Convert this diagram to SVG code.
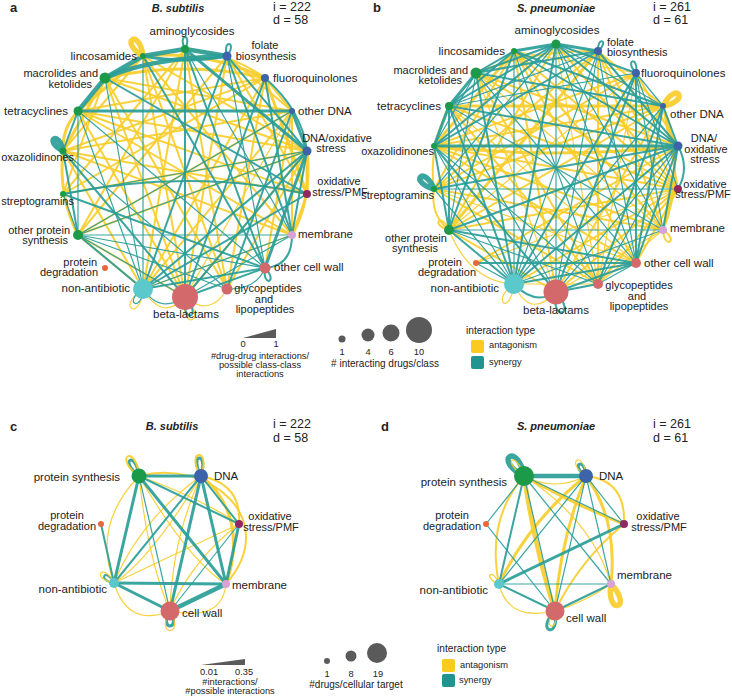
<svg xmlns="http://www.w3.org/2000/svg" width="732" height="697" viewBox="0 0 732 697">
<style>
text{font-family:"Liberation Sans",Arial,sans-serif;fill:#222}
.lb{font-size:11.5px}
.lb2{font-size:11px}
.e{text-anchor:end}
.m{text-anchor:middle}
.tt{font-size:11px;font-weight:bold;font-style:italic;text-anchor:middle}
.pl{font-size:13px;font-weight:bold}
.st{font-size:12.5px}
.lg{font-size:9.3px}
.ls{font-size:9.3px}
.y{stroke:#F8CD2C;fill:none;stroke-linecap:round;stroke-opacity:.92}
.t{stroke:#2A9D98;fill:none;stroke-linecap:round;stroke-opacity:.92}
.w1{stroke-width:1.2}.w2{stroke-width:2}.w3{stroke-width:3}.w4{stroke-width:4.5}.w5{stroke-width:5.5}
.gr{fill:#1D9A49}.bl{fill:#3D63A8}.pu{fill:#8E2A60}.li{fill:#D7A2D6}.sa{fill:#D3696B}.or{fill:#E8683D}.cy{fill:#5BC9CB}
.lgd{fill:#5a5a5a}
</style>

<!-- ================= PANEL A ================= -->
<g id="a-header">
<text class="pl" x="10" y="12">a</text>
<text class="tt" x="178" y="12">B. subtilis</text>
<text class="st" x="273" y="11">i = 222</text>
<text class="st" x="273" y="24">d = 58</text>
</g>
<g id="a-connectors">
<path class="y w3" d="M143 56L78 111"/>
<path class="y w2" d="M143 56L63 151"/>
<path class="y w3" d="M143 56Q205 50 265 78"/>
<path class="y w3" d="M105 78Q185 60 265 78"/>
<path class="y w2" d="M105 78L292 111"/>
<path class="y w2" d="M105 78L307 151"/>
<path class="y w3" d="M105 78L63 151"/>
<path class="y w2" d="M105 78L63 194"/>
<path class="y w3" d="M78 111Q62 128 63 151"/>
<path class="y w2" d="M78 111L265 78"/>
<path class="y w2" d="M78 111L307 151"/>
<path class="y w2" d="M78 111L307 194"/>
<path class="y w2" d="M78 111L292 235"/>
<path class="y w2" d="M78 111L185 297"/>
<path class="y w2" d="M63 151L292 111"/>
<path class="y w2" d="M63 151L265 78"/>
<path class="y w2" d="M63 151L307 194"/>
<path class="y w2" d="M63 151L292 235"/>
<path class="y w2" d="M63 151L143 289"/>
<path class="y w2" d="M63 194L307 151"/>
<path class="y w2" d="M63 194L265 78"/>
<path class="y w2" d="M78 235L227 56"/>
<path class="y w2" d="M78 235L292 111"/>
<path class="y w2" d="M78 235L307 151"/>
<path class="y w3" d="M78 235Q58 195 63 151"/>
<path class="y w2" d="M227 56L292 111"/>
<path class="y w2" d="M227 56L307 194"/>
<path class="y w2" d="M227 56L185 297"/>
<path class="y w2" d="M265 78L292 111"/>
<path class="y w3" d="M265 78L307 194"/>
<path class="y w2" d="M265 78L143 289"/>
<path class="y w2" d="M265 78L227 289"/>
<path class="y w2" d="M292 111L292 235"/>
<path class="y w3" d="M307 151L307 194"/>
<path class="y w3" d="M307 151Q312 200 292 235"/>
<path class="y w2" d="M307 194L292 235"/>
<path class="y w2" d="M185 49L143 289"/>
<path class="y w2" d="M185 49L227 289"/>
<path class="y w2" d="M185 49L78 235"/>
<path class="y w2" d="M185 49L63 194"/>
<path class="y w2" d="M143 56L185 297"/>
<path class="y w2" d="M143 56L227 289"/>
<path class="y w2" d="M143 56L292 235"/>
<path class="y w2" d="M105 78L185 297"/>
<path class="y w2" d="M105 78L227 289"/>
<path class="y w2" d="M185 297L307 151"/>
<path class="y w2" d="M185 297L78 235"/>
<path class="y w2" d="M143 289L78 235"/>
<path class="y w2" d="M227 289L307 151"/>
<path class="y w2" d="M143 289L292 111"/>
<path class="y w1" d="M185 297L292 111"/>
<path class="y w2" d="M265 268L292 111"/>
<path class="y w1" d="M292 235L143 289"/>
<path class="y w2" d="M143 56L307 151"/>
<path class="y w2" d="M185 49Q232 54 265 78"/>
<path class="y w1" d="M143 289Q162 322 185 297"/>
<path class="y w1" d="M185 297Q210 318 227 289"/>

<path class="t w4" d="M143 56L185 49"/>
<path class="t w4" d="M185 49L227 56"/>
<path class="t w3" d="M143 56Q185 64 227 56"/>
<path class="t w4" d="M105 78L143 56"/>
<path class="t w4" d="M105 78L78 111"/>
<path class="t w4" d="M105 78Q150 58 227 56"/>
<path class="t w3" d="M78 111L292 111"/>
<path class="t w3" d="M292 111L307 151"/>
<path class="t w2" d="M78 111L63 151"/>
<path class="t w2" d="M63 151L78 235"/>
<path class="t w1" d="M78 111L78 235"/>
<path class="t w2" d="M185 49L185 297"/>
<path class="t w2" d="M185 49L265 268"/>
<path class="t w1" d="M185 49L292 235"/>
<path class="t w2" d="M227 56L143 289"/>
<path class="t w1" d="M227 56L265 268"/>
<path class="t w2" d="M227 56L292 235"/>
<path class="t w3" d="M185 49L307 151"/>
<path class="t w2" d="M227 56L307 151"/>
<path class="t w2" d="M265 78L292 235"/>
<path class="t w2" d="M265 78Q302 110 307 151"/>
<path class="t w2" d="M307 151L143 289"/>
<path class="t w2" d="M307 151L185 297"/>
<path class="t w3" d="M307 151L265 268"/>
<path class="t w1" d="M307 151L78 235"/>
<path class="t w1" d="M307 151L63 194"/>
<path class="t w2" d="M307 151L292 235"/>
<path class="t w2" d="M307 194L143 289"/>
<path class="t w2" d="M307 194Q190 168 63 194"/>
<path class="t w1" d="M78 235L292 235"/>
<path class="t w1" d="M78 235L265 268"/>
<path class="t w2" d="M78 235L143 289"/>
<path class="t w1" d="M78 235L185 297"/>
<path class="t w1" d="M78 235L227 289"/>
<path class="t w2" d="M63 194L265 268"/>
<path class="t w2" d="M143 289L265 268"/>
<path class="t w1" d="M143 289L292 235"/>
<path class="t w2" d="M185 297L265 268"/>
<path class="t w1" d="M185 297L292 235"/>
<path class="t w2" d="M227 289L292 111"/>
<path class="t w2" d="M185 297L265 78"/>
<path class="t w1" d="M78 111L143 289"/>
<path class="t w2" d="M63 151L185 297"/>
<path class="t w1" d="M105 78L143 289"/>
<path class="t w2" d="M105 78L307 194"/>
<path class="t w2" d="M143 56L265 268"/>
<path class="t w1" d="M63 151L227 289"/>
<path class="t w1" d="M292 111L78 235"/>
<path class="t w1" d="M63 194L78 235"/>
<path class="t w1" d="M143 56L143 289"/>
<path class="t w1" d="M78 111L265 268"/>
<path class="t w1" d="M227 289Q256 290 265 268"/>
<path class="t w2" d="M292 235Q292 266 265 268"/>
<path class="t w1" d="M143 289Q160 314 185 297"/>

<path class="y w5" d="M143 56C139.5 27 118 41.6 143 56"/>
<path class="t w2" d="M185 49C193 33 177 33 185 49"/>
<path class="t w2" d="M227 56C238 41.6 222 38.4 227 56"/>
<path class="t w5" d="M63 151C59 129 43 141 63 151"/>
<path class="t w2" d="M265 268C262 288 279 282 265 268"/>
<path class="y w1" d="M143 289C115 307.5 141 322.5 143 289"/>
<path class="t w1" d="M143 289C122 302.5 142 313.5 143 289"/>
<path class="y w1" d="M185 297C179 332 210 322.6 185 297"/>
<path class="t w2" d="M185 297C181 325 204 318 185 297"/>
</g>

<g id="a-aminoglycosides"><circle class="gr" cx="185" cy="49" r="4"/><text class="lb m" x="192" y="35">aminoglycosides</text></g>
<g id="a-folate"><circle class="bl" cx="227" cy="56" r="4.5"/><text class="lb2 m" x="265" y="49">folate</text><text class="lb2 m" x="266" y="59.5">biosynthesis</text></g>
<g id="a-fluoroquinolones"><circle class="bl" cx="265" cy="78" r="4"/><text class="lb" x="273" y="82">fluoroquinolones</text></g>
<g id="a-otherdna"><circle class="bl" cx="292" cy="111" r="3"/><text class="lb" x="298" y="115">other DNA</text></g>
<g id="a-dnaox"><circle class="bl" cx="307" cy="151" r="4.5"/><text class="lb2 m" x="337" y="141.5">DNA/oxidative</text><text class="lb2 m" x="331" y="152">stress</text></g>
<g id="a-oxpmf"><circle class="pu" cx="307" cy="194" r="4"/><text class="lb2 m" x="339" y="185">oxidative</text><text class="lb2 m" x="340" y="195.5">stress/PMF</text></g>
<g id="a-membrane"><circle class="li" cx="292" cy="235" r="4"/><text class="lb" x="298" y="238">membrane</text></g>
<g id="a-othercellwall"><circle class="sa" cx="265" cy="268" r="5.5"/><text class="lb" x="274" y="271">other cell wall</text></g>
<g id="a-glycopeptides"><circle class="sa" cx="227" cy="289" r="5.5"/><text class="lb2 m" x="268" y="292">glycopeptides</text><text class="lb2 m" x="264" y="302.5">and</text><text class="lb2 m" x="265" y="313">lipopeptides</text></g>
<g id="a-betalactams"><circle class="sa" cx="185" cy="297" r="13"/><text class="lb m" x="186" y="318">beta-lactams</text></g>
<g id="a-nonantibiotic"><circle class="cy" cx="143" cy="289" r="10"/><text class="lb e" x="130" y="292">non-antibiotic</text></g>
<g id="a-proteindeg"><circle class="or" cx="105" cy="268" r="3"/><text class="lb2 e" x="97" y="265.5">protein</text><text class="lb2 e" x="98" y="276">degradation</text></g>
<g id="a-otherprotein"><circle class="gr" cx="78" cy="235" r="5"/><text class="lb2 e" x="70" y="233.5">other protein</text><text class="lb2 e" x="68" y="244">synthesis</text></g>
<g id="a-streptogramins"><circle class="gr" cx="63" cy="194" r="3"/><text class="lb2 e" x="74" y="205">streptogramins</text></g>
<g id="a-oxazolidinones"><circle class="gr" cx="63" cy="151" r="3.5"/><text class="lb2 e" x="74" y="161">oxazolidinones</text></g>
<g id="a-tetracyclines"><circle class="gr" cx="78" cy="111" r="4.5"/><text class="lb e" x="68" y="115">tetracyclines</text></g>
<g id="a-macrolides"><circle class="gr" cx="105" cy="78" r="5.5"/><text class="lb2 e" x="98" y="77">macrolides and</text><text class="lb2 e" x="92" y="87.5">ketolides</text></g>
<g id="a-lincosamides"><circle class="gr" cx="143" cy="56" r="3"/><text class="lb e" x="137" y="60">lincosamides</text></g>

<!-- ================= PANEL B ================= -->
<g id="b-header">
<text class="pl" x="373" y="12">b</text>
<text class="tt" x="556" y="12">S. pneumoniae</text>
<text class="st" x="653" y="11">i = 261</text>
<text class="st" x="653" y="24">d = 61</text>
</g>
<g id="b-connectors">
<path class="y w3" d="M514 51L434 146"/>
<path class="y w2" d="M514 51L434 189"/>
<path class="y w2" d="M514 51L556 292"/>
<path class="y w2" d="M514 51L636 263"/>
<path class="y w2" d="M514 51L678 189"/>
<path class="y w1" d="M514 51L636 73"/>
<path class="y w2" d="M556 44L678 189"/>
<path class="y w1" d="M556 44L598 284"/>
<path class="y w3" d="M598 51L449 230"/>
<path class="y w2" d="M598 51L434 189"/>
<path class="y w2" d="M598 51L678 189"/>
<path class="y w2" d="M598 51L663 230"/>
<path class="y w2" d="M598 51L598 284"/>
<path class="y w2" d="M598 51L663 106"/>
<path class="y w2" d="M476 73L678 146"/>
<path class="y w2" d="M476 73L678 189"/>
<path class="y w1" d="M476 73L663 230"/>
<path class="y w2" d="M476 73L598 284"/>
<path class="y w2" d="M476 73Q530 50 598 51"/>
<path class="y w1" d="M476 73L556 292"/>
<path class="y w3" d="M449 106L663 106"/>
<path class="y w2" d="M449 106L678 189"/>
<path class="y w1" d="M449 106L636 263"/>
<path class="y w2" d="M449 106L598 284"/>
<path class="y w2" d="M449 106Q428 150 434 189"/>
<path class="y w3" d="M434 146Q556 160 678 146"/>
<path class="y w2" d="M434 146L663 106"/>
<path class="y w2" d="M434 146L636 73"/>
<path class="y w2" d="M434 146L663 230"/>
<path class="y w2" d="M434 146L678 189"/>
<path class="y w2" d="M434 189L663 106"/>
<path class="y w2" d="M434 189L636 73"/>
<path class="y w2" d="M434 189L663 230"/>
<path class="y w1" d="M434 189L636 263"/>
<path class="y w2" d="M434 189L598 284"/>
<path class="y w2" d="M449 230L678 189"/>
<path class="y w1" d="M449 230L636 73"/>
<path class="y w2" d="M449 230L556 292"/>
<path class="y w2" d="M449 230L663 106"/>
<path class="y w1" d="M476 263L678 189"/>
<path class="y w2" d="M476 263L678 146"/>
<path class="y w2" d="M514 284L678 189"/>
<path class="y w1" d="M514 284L598 284"/>
<path class="y w2" d="M556 292L678 189"/>
<path class="y w2" d="M556 292L663 106"/>
<path class="y w1" d="M556 292L663 230"/>
<path class="y w2" d="M598 284L678 189"/>
<path class="y w1" d="M598 284L663 230"/>
<path class="y w1" d="M598 284L636 73"/>
<path class="y w2" d="M636 263L678 189"/>
<path class="y w3" d="M663 230Q686 170 663 106"/>
<path class="y w2" d="M663 106L678 189"/>
<path class="y w2" d="M678 146L663 230"/>
<path class="y w2" d="M636 73L678 146"/>
<path class="y w2" d="M449 230Q430 215 434 189"/>
<path class="y w1" d="M514 284Q530 320 556 292"/>
<path class="y w1" d="M449 230Q470 282 514 284"/>
<path class="y w2" d="M556 44L449 230"/>
<path class="y w2" d="M514 51L663 230"/>
<path class="y w2" d="M434 146L636 263"/>

<path class="t w3" d="M556 44L514 51"/>
<path class="t w3" d="M556 44L598 51"/>
<path class="t w2" d="M556 44L476 73"/>
<path class="t w2" d="M556 44L449 106"/>
<path class="t w2" d="M556 44L434 146"/>
<path class="t w1" d="M556 44L434 189"/>
<path class="t w2" d="M556 44L514 284"/>
<path class="t w1" d="M556 44L556 292"/>
<path class="t w1" d="M556 44L636 263"/>
<path class="t w1" d="M556 44L663 230"/>
<path class="t w2" d="M556 44L678 146"/>
<path class="t w1" d="M556 44L663 106"/>
<path class="t w2" d="M556 44L636 73"/>
<path class="t w2" d="M514 51L476 73"/>
<path class="t w2" d="M514 51L449 106"/>
<path class="t w2" d="M514 51L449 230"/>
<path class="t w1" d="M514 51L514 284"/>
<path class="t w1" d="M514 51L598 284"/>
<path class="t w2" d="M514 51L678 146"/>
<path class="t w2" d="M514 51L663 106"/>
<path class="t w2" d="M598 51L476 73"/>
<path class="t w1" d="M598 51L449 106"/>
<path class="t w2" d="M598 51L434 146"/>
<path class="t w1" d="M598 51L514 284"/>
<path class="t w1" d="M598 51L556 292"/>
<path class="t w1" d="M598 51L636 263"/>
<path class="t w2" d="M598 51L678 146"/>
<path class="t w3" d="M476 73L449 106"/>
<path class="t w1" d="M476 73L434 146"/>
<path class="t w1" d="M476 73L449 230"/>
<path class="t w2" d="M476 73L514 284"/>
<path class="t w1" d="M476 73L636 263"/>
<path class="t w2" d="M476 73L663 106"/>
<path class="t w3" d="M449 106L434 146"/>
<path class="t w2" d="M449 106L449 230"/>
<path class="t w2" d="M449 106L514 284"/>
<path class="t w1" d="M449 106L556 292"/>
<path class="t w1" d="M449 106L663 230"/>
<path class="t w2" d="M449 106L678 146"/>
<path class="t w1" d="M449 106L636 73"/>
<path class="t w3" d="M434 146L678 146"/>
<path class="t w1" d="M434 146L514 284"/>
<path class="t w2" d="M434 146L556 292"/>
<path class="t w2" d="M434 146L449 230"/>
<path class="t w1" d="M434 146L598 284"/>
<path class="t w1" d="M434 189L678 189"/>
<path class="t w1" d="M434 189L514 284"/>
<path class="t w2" d="M434 189L678 146"/>
<path class="t w1" d="M449 230L663 230"/>
<path class="t w2" d="M449 230L636 263"/>
<path class="t w2" d="M449 230L514 284"/>
<path class="t w2" d="M449 230L678 146"/>
<path class="t w1" d="M449 230L598 284"/>
<path class="t w2" d="M476 263L636 263"/>
<path class="t w1" d="M476 263L514 284"/>
<path class="t w2" d="M514 284L636 263"/>
<path class="t w1" d="M514 284L663 230"/>
<path class="t w2" d="M514 284L678 146"/>
<path class="t w1" d="M514 284L663 106"/>
<path class="t w2" d="M514 284L636 73"/>
<path class="t w2" d="M556 292L636 263"/>
<path class="t w2" d="M556 292L636 73"/>
<path class="t w1" d="M556 292L678 146"/>
<path class="t w2" d="M556 292L598 284"/>
<path class="t w1" d="M598 284L636 263"/>
<path class="t w2" d="M598 284L663 106"/>
<path class="t w1" d="M598 284L678 146"/>
<path class="t w2" d="M636 263L663 106"/>
<path class="t w2" d="M636 263L678 146"/>
<path class="t w2" d="M636 263L636 73"/>
<path class="t w2" d="M663 230L678 146"/>
<path class="t w1" d="M663 230L636 73"/>
<path class="t w1" d="M636 73L663 106"/>
<path class="t w1" d="M636 73L678 189"/>
<path class="t w2" d="M663 106L678 146"/>
<path class="t w2" d="M678 146Q690 168 678 189"/>
<path class="t w2" d="M514 284Q535 306 556 292"/>

<path class="t w2" d="M598 51C610 41 597 35.6 598 51"/>
<path class="t w2" d="M636 73C639 55 623.6 60 636 73"/>
<path class="y w5" d="M663 106C691.6 100.8 676 80 663 106"/>
<path class="t w5" d="M434 189C424 164 408 182 434 189"/>
<path class="y w2" d="M449 230C441 211.5 429.6 225 449 230"/>
<path class="y w2" d="M663 230C664 250 680 241 663 230"/>
<path class="y w1" d="M514 284C490 300 510 318 514 284"/>
<path class="t w2" d="M556 292C550 322 578 316 556 292"/>
</g>

<g id="b-aminoglycosides"><circle class="gr" cx="556" cy="44" r="4.5"/><text class="lb m" x="557" y="34">aminoglycosides</text></g>
<g id="b-folate"><circle class="bl" cx="598" cy="51" r="4"/><text class="lb2" x="607" y="45.5">folate</text><text class="lb2" x="607" y="56">biosynthesis</text></g>
<g id="b-fluoroquinolones"><circle class="bl" cx="636" cy="73" r="4"/><text class="lb" x="641" y="77">fluoroquinolones</text></g>
<g id="b-otherdna"><circle class="bl" cx="663" cy="106" r="3"/><text class="lb" x="670" y="118">other DNA</text></g>
<g id="b-dnaox"><circle class="bl" cx="678" cy="146" r="4.5"/><text class="lb2 m" x="704" y="142">DNA/</text><text class="lb2 m" x="706" y="152.5">oxidative</text><text class="lb2 m" x="705" y="163">stress</text></g>
<g id="b-oxpmf"><circle class="pu" cx="678" cy="189" r="4"/><text class="lb2 m" x="705" y="187.5">oxidative</text><text class="lb2 m" x="703" y="198">stress/PMF</text></g>
<g id="b-membrane"><circle class="li" cx="663" cy="230" r="4"/><text class="lb" x="670" y="232">membrane</text></g>
<g id="b-othercellwall"><circle class="sa" cx="636" cy="263" r="5"/><text class="lb" x="644" y="267">other cell wall</text></g>
<g id="b-glycopeptides"><circle class="sa" cx="598" cy="284" r="5"/><text class="lb2 m" x="639" y="289">glycopeptides</text><text class="lb2 m" x="637" y="299.5">and</text><text class="lb2 m" x="639" y="310">lipopeptides</text></g>
<g id="b-betalactams"><circle class="sa" cx="556" cy="292" r="12.5"/><text class="lb m" x="556" y="314">beta-lactams</text></g>
<g id="b-nonantibiotic"><circle class="cy" cx="514" cy="284" r="10"/><text class="lb e" x="499" y="292">non-antibiotic</text></g>
<g id="b-proteindeg"><circle class="or" cx="476" cy="263" r="3"/><text class="lb2 m" x="445" y="265.5">protein</text><text class="lb2 m" x="447" y="276">degradation</text></g>
<g id="b-otherprotein"><circle class="gr" cx="449" cy="230" r="5"/><text class="lb2 m" x="416" y="241.5">other protein</text><text class="lb2 m" x="415" y="252">synthesis</text></g>
<g id="b-streptogramins"><circle class="gr" cx="434" cy="189" r="3"/><text class="lb2 e" x="434" y="199">streptogramins</text></g>
<g id="b-oxazolidinones"><circle class="gr" cx="434" cy="146" r="3"/><text class="lb2 e" x="434" y="155">oxazolidinones</text></g>
<g id="b-tetracyclines"><circle class="gr" cx="449" cy="106" r="4"/><text class="lb e" x="441" y="110">tetracyclines</text></g>
<g id="b-macrolides"><circle class="gr" cx="476" cy="73" r="5.5"/><text class="lb2 e" x="468" y="73.5">macrolides and</text><text class="lb2 e" x="462" y="84">ketolides</text></g>
<g id="b-lincosamides"><circle class="gr" cx="514" cy="51" r="3"/><text class="lb e" x="505" y="55">lincosamides</text></g>

<!-- legend top -->
<g id="legend-top">
<polygon class="lgd" points="243,338 276,338 276,329"/>
<text class="lg m" x="243" y="347">0</text>
<text class="lg m" x="276" y="347">1</text>
<text class="lg m" x="260" y="359">#drug-drug interactions/</text>
<text class="lg m" x="260" y="368">possible class-class</text>
<text class="lg m" x="260" y="377">interactions</text>
<circle class="lgd" cx="342" cy="339" r="3.5"/>
<circle class="lgd" cx="368" cy="335" r="6.5"/>
<circle class="lgd" cx="391" cy="333" r="8.5"/>
<circle class="lgd" cx="419" cy="330" r="13"/>
<text class="ls m" x="342" y="355">1</text>
<text class="ls m" x="368" y="355">4</text>
<text class="ls m" x="391" y="355">6</text>
<text class="ls m" x="419" y="355">10</text>
<text class="lg m" x="385" y="367" style="font-size:10px"># interacting drugs/class</text>
<text class="lg" x="466" y="334" style="font-size:10.2px">interaction type</text>
<rect x="471" y="340" width="13" height="13" rx="2" fill="#FACB1E"/>
<text class="ls" x="489" y="348">antagonism</text>
<rect x="471" y="356" width="13" height="13" rx="2" fill="#20958F"/>
<text class="ls" x="489" y="365">synergy</text>
</g>

<!-- ================= PANEL C ================= -->
<g id="c-header">
<text class="pl" x="10" y="431">c</text>
<text class="tt" x="172" y="430">B. subtilis</text>
<text class="st" x="273" y="428">i = 222</text>
<text class="st" x="273" y="442">d = 58</text>
</g>
<g id="c-connectors">
<path class="y w2" d="M139 476C210 458 282 520 226 584"/>
<path class="y w3" d="M201 476C232 500 242 540 226 584"/>
<path class="y w1" d="M139 476Q92 525 114 583"/>
<path class="y w1" d="M114 583Q128 628 170 611"/>
<path class="y w1" d="M139 476Q148 560 170 611"/>
<path class="y w1" d="M139 476Q200 498 239 524"/>
<path class="y w1" d="M139 476Q188 560 226 584"/>
<path class="y w1" d="M201 476Q140 520 114 583"/>
<path class="y w1" d="M201 476Q172 540 170 611"/>
<path class="y w1" d="M239 524L114 583"/>
<path class="y w1" d="M239 524Q192 560 170 611"/>
<path class="y w1" d="M170 611Q222 622 226 584"/>
<path class="y w2" d="M201 476Q242 484 239 524"/>
<path class="y w1" d="M201 476Q150 560 114 583"/>

<path class="t w3" d="M139 476L201 476"/>
<path class="t w3" d="M139 476L114 583"/>
<path class="t w1" d="M139 476L170 611"/>
<path class="t w3" d="M139 476L226 584"/>
<path class="t w2" d="M139 476L239 524"/>
<path class="t w2" d="M201 476L114 583"/>
<path class="t w3" d="M201 476L170 611"/>
<path class="t w3" d="M201 476L226 584"/>
<path class="t w2" d="M201 476L239 524"/>
<path class="t w3" d="M239 524L226 584"/>
<path class="t w1" d="M239 524L170 611"/>
<path class="t w2" d="M101 524L114 583"/>
<path class="t w3" d="M114 583L226 584"/>
<path class="t w3" d="M114 583L170 611"/>
<path class="t w4" d="M170 611L226 584"/>

<path class="t w3" d="M139 476C135.7 450 118.3 460 139 476"/>
<path class="y w2" d="M139 476C136 443 112 457 139 476"/>
<path class="t w3" d="M201 476C208.6 451 188.6 453 201 476"/>
<path class="y w2" d="M201 476C212 446.6 184 449.4 201 476"/>
<path class="t w2" d="M114 583C106 567 96.4 580 114 583"/>
<path class="y w1" d="M114 583C103 561 89.8 578.6 114 583"/>
<path class="t w3" d="M170 611C158 631 182 631 170 611"/>
<path class="y w1" d="M170 611C154 637 186 637 170 611"/>
</g>
<g id="c-proteinsynthesis"><circle class="gr" cx="139" cy="476" r="7.5"/><text class="lb e" x="120" y="481">protein synthesis</text></g>
<g id="c-dna"><circle class="bl" cx="201" cy="476" r="7"/><text class="lb" x="214" y="480">DNA</text></g>
<g id="c-oxpmf"><circle class="pu" cx="239" cy="524" r="4"/><text class="lb2 m" x="270" y="520">oxidative</text><text class="lb2 m" x="271" y="530.5">stress/PMF</text></g>
<g id="c-proteindeg"><circle class="or" cx="101" cy="524" r="3"/><text class="lb2 m" x="67" y="519">protein</text><text class="lb2 m" x="67" y="529.5">degradation</text></g>
<g id="c-nonantibiotic"><circle class="cy" cx="114" cy="583" r="5"/><text class="lb e" x="107" y="593">non-antibiotic</text></g>
<g id="c-membrane"><circle class="li" cx="226" cy="584" r="4"/><text class="lb" x="232" y="589">membrane</text></g>
<g id="c-cellwall"><circle class="sa" cx="170" cy="611" r="9.5"/><text class="lb" x="182" y="617">cell wall</text></g>

<!-- ================= PANEL D ================= -->
<g id="d-header">
<text class="pl" x="381" y="431">d</text>
<text class="tt" x="556" y="430">S. pneumoniae</text>
<text class="st" x="653" y="428">i = 261</text>
<text class="st" x="653" y="442">d = 61</text>
</g>
<g id="d-connectors">
<path class="y w1" d="M524 476Q555 492 586 476"/>
<path class="y w4" d="M524 476Q535 550 555 611"/>
<path class="y w3" d="M524 476Q575 505 624 524"/>
<path class="y w2" d="M524 476Q486 520 499 584"/>
<path class="y w1" d="M524 476Q592 520 611 584"/>
<path class="y w3" d="M586 476Q560 540 555 611"/>
<path class="y w3" d="M586 476Q530 520 499 584"/>
<path class="y w3" d="M586 476Q618 520 611 584"/>
<path class="y w2" d="M586 476Q626 480 624 524"/>
<path class="y w2" d="M624 524Q580 560 555 611"/>
<path class="y w1" d="M499 584Q508 622 555 611"/>
<path class="y w1" d="M611 584Q585 602 555 611"/>

<path class="t w4" d="M524 476L586 476"/>
<path class="t w2" d="M524 476L499 584"/>
<path class="t w1" d="M524 476L555 611"/>
<path class="t w1" d="M524 476L611 584"/>
<path class="t w1" d="M524 476L624 524"/>
<path class="t w1" d="M524 476L486 524"/>
<path class="t w1" d="M486 524L555 611"/>
<path class="t w1" d="M586 476L499 584"/>
<path class="t w1" d="M586 476L555 611"/>
<path class="t w1" d="M586 476L611 584"/>
<path class="t w1" d="M586 476L624 524"/>
<path class="t w3" d="M624 524L499 584"/>
<path class="t w1" d="M499 584L611 584"/>
<path class="t w2" d="M499 584L555 611"/>
<path class="t w2" d="M555 611L611 584"/>

<path class="t w5" d="M524 476C517.6 440.8 492 460 524 476"/>
<path class="y w1" d="M524 476C516 449 500 461 524 476"/>
<path class="t w3" d="M586 476C584.8 455.8 569.2 464.8 586 476"/>
<path class="y w1" d="M586 476C584.4 449 563.6 461 586 476"/>
<path class="y w1" d="M499 584C492 566 482 578 499 584"/>
<path class="y w5" d="M611 584C605.7 617 634.3 608 611 584"/>
<path class="t w3" d="M555 611C534 631.5 560.5 640 555 611"/>
<path class="y w1" d="M555 611C540 628 560 634 555 611"/>
</g>
<g id="d-proteinsynthesis"><circle class="gr" cx="524" cy="476" r="10"/><text class="lb e" x="507" y="486">protein synthesis</text></g>
<g id="d-dna"><circle class="bl" cx="586" cy="476" r="7"/><text class="lb" x="599" y="480">DNA</text></g>
<g id="d-oxpmf"><circle class="pu" cx="624" cy="524" r="4"/><text class="lb2 m" x="658" y="520">oxidative</text><text class="lb2 m" x="659" y="530.5">stress/PMF</text></g>
<g id="d-proteindeg"><circle class="or" cx="486" cy="524" r="3"/><text class="lb2 m" x="452" y="519">protein</text><text class="lb2 m" x="452" y="529.5">degradation</text></g>
<g id="d-nonantibiotic"><circle class="cy" cx="499" cy="584" r="5"/><text class="lb e" x="488" y="594">non-antibiotic</text></g>
<g id="d-membrane"><circle class="li" cx="611" cy="584" r="4"/><text class="lb" x="617" y="579">membrane</text></g>
<g id="d-cellwall"><circle class="sa" cx="555" cy="611" r="9.5"/><text class="lb" x="566" y="622">cell wall</text></g>

<!-- legend bottom -->
<g id="legend-bottom">
<polygon class="lgd" points="201,665 245,665 245,659"/>
<text class="lg" x="200" y="675">0.01</text>
<text class="lg" x="235" y="675">0.35</text>
<text class="lg m" x="230" y="685">#interactions/</text>
<text class="lg m" x="230" y="694">#possible interactions</text>
<circle class="lgd" cx="327" cy="661" r="3"/>
<circle class="lgd" cx="351" cy="656" r="5.5"/>
<circle class="lgd" cx="377" cy="653" r="10"/>
<text class="ls m" x="327" y="677">1</text>
<text class="ls m" x="351" y="677">8</text>
<text class="ls m" x="378" y="677">19</text>
<text class="lg m" x="356" y="688" style="font-size:10px">#drugs/cellular target</text>
<text class="lg" x="437" y="652" style="font-size:10.2px">interaction type</text>
<rect x="442" y="659" width="13" height="13" rx="2" fill="#FACB1E"/>
<text class="ls" x="460" y="668">antagonism</text>
<rect x="442" y="674" width="13" height="13" rx="2" fill="#20958F"/>
<text class="ls" x="459" y="683">synergy</text>
</g>
</svg>
